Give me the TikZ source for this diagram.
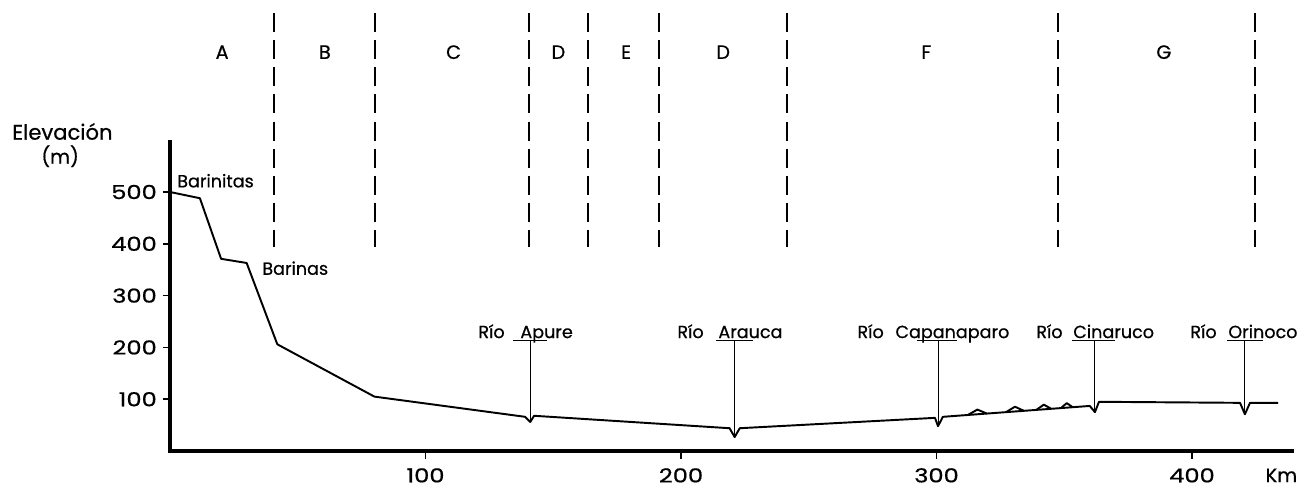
\documentclass[tikz,border=0pt]{standalone}
\usepackage{fontspec}
\setmainfont{Poppins}[FakeBold=0.6]
\usetikzlibrary{positioning}

\begin{document}
\begin{tikzpicture}[x=0.0511cm, y=0.01036cm]
	\tikzstyle{every node} = [inner sep=0pt, font=\fontsize{11}{13}\selectfont]
	\tikzstyle{num} = [font=\fontsize{11}{13}\selectfont, xscale=1.25]
	\tikzstyle{zone} = [line width=1pt, dash pattern=on 10.8pt off 4.6pt]
	\tikzstyle{rio} = [font=\fontsize{10}{12}\selectfont]
	\tikzstyle{perfil} = [line width=1.1pt, line join=round]
	\tikzstyle{leader} = [line width=0.6pt]
	\useasboundingbox (-66.54,-71.43) rectangle (442.27,870.66);
% axes
\coordinate (o) at (0,0);
\coordinate (ytop) at (0,600);
\coordinate (xend) at (440,0);
	\path[draw, line width=2.5pt] (ytop) -- (o) -- (xend);
\node[font=\fontsize{12}{14}\selectfont, anchor=base] (elev) at (-42.1,601) {Elevación};
\node[anchor=base] (unit) at (-43,555) {(m)};
\node[num, anchor=east] (500) at (-5,500) {500};
\node[num, anchor=east] (400) at (-5,400) {400};
\node[num, anchor=east] (300) at (-5,300) {300};
\node[num, anchor=east] (200) at (-5,200) {200};
\node[num, anchor=east] (100) at (-5,100) {100};
	\path[draw, line width=1pt] (-2.8,500) -- (0,500);
	\path[draw, line width=1pt] (-2.8,400) -- (0,400);
	\path[draw, line width=1pt] (-2.8,300) -- (0,300);
	\path[draw, line width=1pt] (-2.8,200) -- (0,200);
	\path[draw, line width=1pt] (-2.8,100) -- (0,100);
\node[num] (k100) at (100,-47) {100};
\node[num] (k200) at (200,-47) {200};
\node[num] (k300) at (300,-47) {300};
\node[num] (k400) at (400,-47) {400};
\node (km) at (435,-47) {Km};
	\path[draw, line width=1pt] (100,0) -- (100,-15);
	\path[draw, line width=1pt] (200,0) -- (200,-15);
	\path[draw, line width=1pt] (300,0) -- (300,-15);
	\path[draw, line width=1pt] (400,0) -- (400,-15);
% zones
	\path[draw, zone] (40.7,845) -- (40.7,394);
	\path[draw, zone] (80.2,845) -- (80.2,394);
	\path[draw, zone] (140.5,845) -- (140.5,394);
	\path[draw, zone] (163.6,845) -- (163.6,394);
	\path[draw, zone] (191.4,845) -- (191.4,394);
	\path[draw, zone] (241.5,845) -- (241.5,394);
	\path[draw, zone] (347.6,845) -- (347.6,394);
	\path[draw, zone] (424.7,845) -- (424.7,394);
\node (zA) at (20.4,770) {A};
\node (zB) at (60.6,770) {B};
\node (zC) at (111,770) {C};
\node (zD1) at (152,770) {D};
\node (zE) at (178.5,770) {E};
\node (zD2) at (216.5,770) {D};
\node (zF) at (296,770) {F};
\node (zG) at (389,770) {G};
% profile
\coordinate (vapure) at (141,56);
\coordinate (varauca) at (221,27);
\coordinate (vcapana) at (300.6,48);
\coordinate (vcinaru) at (362,75);
\coordinate (vorinoco) at (420.7,71);
	\path[draw, perfil] (0,500) -- (11.7,488) -- (20,371) -- (30,363) -- (42,206) -- (80,105)
		-- (139,66) -- (vapure) -- (142.5,68) -- (219,44) -- (varauca) -- (223,44)
		-- (299.4,64) -- (vcapana) -- (302.5,66) -- (360,87) -- (vcinaru) -- (363.6,95)
		-- (418.8,93) -- (vorinoco) -- (422.7,93) -- (433.7,93);
	\path[draw, perfil] (312.3,69.6) -- (316,80) -- (319.7,72.3);
	\path[draw, perfil] (327.2,75) -- (330.7,85.5) -- (334.2,77.6);
	\path[draw, perfil] (339.1,79.4) -- (342,89.5) -- (344.9,81.5);
	\path[draw, perfil] (348.7,82.9) -- (351,92.5) -- (353.3,84.5);
\node[rio, anchor=south west] (barinitas) at (2.7,508) {Barinitas};
\node[rio, anchor=west] (barinas) at (36,353) {Barinas};
% rivers
\node[rio, anchor=base west] (apure) at (137,218) {Apure};
\node[rio, base left=0.3cm of apure] (rio1) {Río};
\node[rio, anchor=base west] (arauca) at (214.5,218) {Arauca};
\node[rio, base left=0.28cm of arauca] (rio2) {Río};
\node[rio, anchor=base west] (capana) at (283.8,218) {Capanaparo};
\node[rio, base left=0.22cm of capana] (rio3) {Río};
\node[rio, anchor=base west] (cinaru) at (353.4,218) {Cinaruco};
\node[rio, base left=0.2cm of cinaru] (rio4) {Río};
\node[rio, anchor=base west] (orinoco) at (414.1,218) {Orinoco};
\node[rio, base left=0.22cm of orinoco] (rio5) {Río};
\coordinate (uapure) at (141,214);
\coordinate (uarauca) at (221,214);
\coordinate (ucapana) at (300.6,214);
\coordinate (ucinaru) at (362,214);
\coordinate (uorinoco) at (420.7,214);
	\path[draw, leader] (134.2,214) -- (147.6,214);
	\path[draw, leader] (213.7,214) -- (228.2,214);
	\path[draw, leader] (292.4,214) -- (308,214);
	\path[draw, leader] (353,214) -- (369.9,214);
	\path[draw, leader] (413.7,214) -- (427.8,214);
	\path[draw, leader] (uapure) -- (vapure);
	\path[draw, leader] (uarauca) -- (varauca);
	\path[draw, leader] (ucapana) -- (vcapana);
	\path[draw, leader] (ucinaru) -- (vcinaru);
	\path[draw, leader] (uorinoco) -- (vorinoco);
\end{tikzpicture}
\end{document}
